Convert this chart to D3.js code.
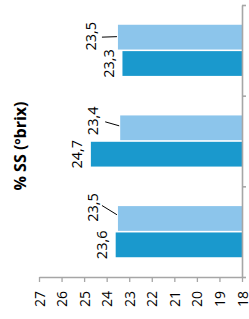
<!DOCTYPE html>
<html>
<head>
<meta charset="utf-8">
<script src="https://cdn.jsdelivr.net/npm/d3@7"></script>
<style>
  body { margin: 0; background: #fff; }
  text { font-family: "Open Sans", "Liberation Sans", sans-serif; }
</style>
</head>
<body>
<div id="chart"></div>
<script>
// data
const groups = ["G1", "G2", "G3"];
const series = ["light", "dark"];
const lightValues = [23.5, 23.4, 23.5];
const darkValues = [23.3, 24.7, 23.6];
const axisTicks = [27, 26, 25, 24, 23, 22, 21, 20, 19, 18];
const axisTitle = "% SS (ºbrix)";

const colors = {light: "#8CC5EB", dark: "#1A99CD"};
const axisColor = "#A6A6A6";

const width = 249, height = 319;
const svg = d3.select("#chart")
              .append("svg")
              .attr("width", width)
              .attr("height", height);

// bars run from the right (18) to the left
const xScale = d3.scaleLinear()
                 .domain([27, 18])
                 .range([39, 242]);
const yScale = d3.scaleBand()
                 .domain(groups)
                 .range([5, 277]);
const ySub = d3.scaleBand()
               .domain(series)
               .range([0, yScale.bandwidth()])
               .paddingInner(0.06)
               .paddingOuter(0.75);

const rows = groups.map((g, i) => ({group: g, light: lightValues[i], dark: darkValues[i]}));
const bars = rows.flatMap(r => series.map(s => ({group: r.group, key: s, value: r[s]})));

svg.append("g")
   .selectAll("rect")
   .data(bars)
   .join("rect")
   .attr("x", d => xScale(d.value))
   .attr("y", d => yScale(d.group) + ySub(d.key))
   .attr("width", d => xScale(18) - xScale(d.value))
   .attr("height", ySub.bandwidth())
   .attr("fill", d => colors[d.key]);

// label nudges (light labels were dragged away in the original, with leader lines)
const lightNudge = [{dx: -27, dy: -1, lx: -16, ly: 0},
                    {dx: -27, dy: -7, lx: -15, ly: -6},
                    {dx: -25.5, dy: -11, lx: -16, ly: -13}];
const fmt = v => String(v).replace(".", ",");

const labels = svg.append("g");
bars.forEach(d => {
    const i = groups.indexOf(d.group);
    const xEnd = xScale(d.value);
    const yMid = yScale(d.group) + ySub(d.key) + ySub.bandwidth() / 2;
    let cx = xEnd - 14, cy = yMid;
    if (d.key === "light") {
        const n = lightNudge[i];
        cx = xEnd + n.dx;
        cy = yMid + n.dy;
        labels.append("line")
              .attr("x1", xEnd + n.lx)
              .attr("y1", yMid + n.ly)
              .attr("x2", xEnd - 1)
              .attr("y2", yMid + (n.ly < 0 ? n.ly / 4 : 0) - 0.5)
              .attr("stroke", "#000")
              .attr("stroke-width", 1);
    }
    labels.append("text")
          .attr("transform", `translate(${cx},${cy}) rotate(-90)`)
          .attr("text-anchor", "middle")
          .attr("dy", "0.36em")
          .attr("font-size", 14.5)
          .attr("fill", "#000")
          .text(fmt(d.value));
});

// value axis along the bottom
const xAxis = d3.axisBottom(xScale)
                .tickValues(axisTicks)
                .tickSize(5)
                .tickSizeOuter(0)
                .tickFormat(d => d);
const drawX = svg.append("g")
                 .attr("transform", `translate(0,${yScale.range()[1]})`)
                 .call(xAxis);
drawX.selectAll("path, line")
     .attr("stroke", axisColor)
     .attr("stroke-width", 1.3);
drawX.selectAll("text")
     .attr("transform", "translate(0,14) rotate(-90)")
     .attr("text-anchor", "end")
     .attr("x", 0)
     .attr("y", 0)
     .attr("dy", "0.36em")
     .attr("font-size", 14)
     .attr("fill", "#000");

// category axis on the right, ticks between groups
const edgeScale = d3.scaleLinear()
                    .domain([0, groups.length])
                    .range(yScale.range());
const yAxis = d3.axisRight(edgeScale)
                .tickValues(d3.range(groups.length + 1))
                .tickSize(4)
                .tickSizeOuter(0)
                .tickFormat("");
const drawY = svg.append("g")
                 .attr("transform", `translate(${xScale(18)},0)`)
                 .call(yAxis);
drawY.selectAll("path, line")
     .attr("stroke", axisColor)
     .attr("stroke-width", 1.6);

svg.append("text")
   .attr("transform", `translate(20,146) rotate(-90)`)
   .attr("text-anchor", "middle")
   .attr("dy", "0.36em")
   .attr("font-size", 16)
   .attr("font-weight", "bold")
   .attr("fill", "#000")
   .text(axisTitle);
</script>
</body>
</html>
